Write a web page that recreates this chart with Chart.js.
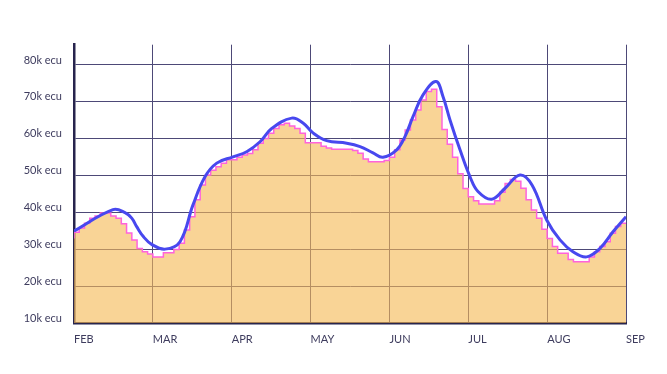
<!DOCTYPE html>
<html>
<head>
<meta charset="utf-8">
<script src="https://cdn.jsdelivr.net/npm/chart.js@4/dist/chart.umd.min.js"></script>
<style>
  html, body { margin: 0; padding: 0; background: #ffffff; }
  #wrap { width: 667px; height: 374px; position: relative; }
</style>
</head>
<body>
<div id="wrap"><canvas id="c"></canvas></div>
<script>
// Month tick labels (x = 0..7 in month units)
const monthLabels = ['FEB', 'MAR', 'APR', 'MAY', 'JUN', 'JUL', 'AUG', 'SEP'];

// Y tick values (ecu)
const yTickValues = [10000, 20000, 30000, 40000, 50000, 60000, 70000, 80000];

// Smooth blue series: positions in months from FEB, values in k ecu
const smoothX = [0, 0.495, 0.647, 0.732, 0.795, 0.879, 0.985, 1.154, 1.344, 1.509, 1.661, 1.81,
  2.016, 2.19, 2.359, 2.507, 2.761, 2.904, 3.031, 3.204, 3.458, 3.627,
  3.792, 3.917, 4.092, 4.197, 4.299, 4.426, 4.591, 4.68, 4.768, 4.895,
  5.022, 5.123, 5.297, 5.466, 5.656, 5.808, 5.994, 6.163, 6.327, 6.501,
  6.67, 6.835, 7];
const smoothY = [35.0, 40.8, 40.0, 38.5, 36.2, 33.5, 31.4, 30.1, 32.1, 42.1, 49.7, 53.4,
  55.1, 56.5, 59.2, 62.8, 65.6, 64.3, 61.6, 59.5, 58.8, 57.9,
  56.2, 55.0, 57.0, 60.6, 66.0, 71.9, 75.5, 71.4, 65.1, 57.0,
  49.7, 45.7, 43.6, 46.6, 50.2, 47.5, 38.0, 32.6, 29.4, 28.0,
  30.3, 34.8, 38.9];

// Stepped pink series: 15 steps per month, values in k ecu
const stepsPerMonth = 15;
const stepValues = [
  // FEB
  33.0, 34.7, 35.8, 37.1, 38.5, 39.1, 39.9, 39.9, 39.1, 38.5, 37.0, 34.5, 32.6, 30.3, 29.4,
  // MAR
  28.8, 28.0, 28.0, 29.1, 29.1, 30.0, 31.7, 35.3, 38.9, 43.5, 47.5, 50.2, 51.5, 52.4, 53.4,
  // APR
  54.3, 54.3, 55.0, 55.6, 56.0, 57.0, 58.8, 60.1, 61.5, 62.8, 63.8, 64.2, 63.5, 62.8, 61.5,
  // MAY
  58.9, 58.9, 58.9, 58.0, 57.5, 57.2, 57.2, 57.2, 57.2, 56.8, 56.1, 54.5, 53.8, 53.8, 53.8,
  // JUN
  54.1, 55.0, 57.0, 59.7, 62.4, 65.1, 67.8, 70.5, 72.8, 73.4, 68.7, 62.5, 58.5, 55.0, 50.5,
  // JUL
  46.5, 44.3, 43.2, 42.3, 42.3, 42.3, 43.2, 45.5, 47.9, 49.0, 48.5, 46.6, 43.5, 40.7, 38.5,
  // AUG
  35.5, 33.0, 30.8, 29.0, 29.0, 27.3, 26.7, 26.7, 26.7, 28.0, 29.4, 30.8, 32.1, 34.4, 36.2,
  // SEP (end)
  37.1
];

const smoothData = smoothX.map((x, i) => ({ x: x, y: smoothY[i] * 1000 }));
const stepData = stepValues.map((v, i) => ({ x: i / stepsPerMonth, y: v * 1000 }));

const gridColor = '#4d4977';
const axisColor = '#27244d';
const labelColor = '#3e3c5e';
const labelFont = { family: 'Lato', size: 11 };

new Chart(document.getElementById('c'), {
  type: 'line',
  data: {
    datasets: [
      {
        label: 'smooth',
        data: smoothData,
        borderColor: '#4848ef',
        borderWidth: 3,
        pointRadius: 0,
        tension: 0.4,
        fill: false,
        order: 0
      },
      {
        label: 'steps',
        data: stepData,
        borderColor: '#ff63dc',
        borderWidth: 1.5,
        pointRadius: 0,
        stepped: 'after',
        fill: 'start',
        backgroundColor: 'rgba(245, 186, 86, 0.62)',
        order: 1
      }
    ]
  },
  options: {
    responsive: true,
    maintainAspectRatio: false,
    animation: false,
    devicePixelRatio: 1,
    layout: { padding: { top: 44.7, right: 41, bottom: 20.7, left: 22 } },
    plugins: { legend: { display: false }, tooltip: { enabled: false } },
    scales: {
      x: {
        type: 'linear',
        min: 0,
        max: monthLabels.length - 1,
        afterFit: (s) => { s.height = 30; },
        ticks: {
          stepSize: 1,
          align: 'start',
          padding: 10,
          color: labelColor,
          font: labelFont,
          maxRotation: 0,
          autoSkip: false,
          callback: (v) => monthLabels[v]
        },
        grid: { color: gridColor, lineWidth: 1, drawTicks: false },
        border: { display: true, color: axisColor, width: 2.5 }
      },
      y: {
        min: 10000,
        max: 85500,
        afterFit: (s) => { s.width = 52; },
        afterBuildTicks: (s) => { s.ticks = yTickValues.map(v => ({ value: v })); },
        ticks: {
          padding: 12,
          labelOffset: -5,
          color: labelColor,
          font: labelFont,
          callback: (v) => (v / 1000) + 'k ecu'
        },
        grid: { color: gridColor, lineWidth: 1, drawTicks: false },
        border: { display: true, color: axisColor, width: 2.5 }
      }
    }
  }
});
</script>
</body>
</html>
